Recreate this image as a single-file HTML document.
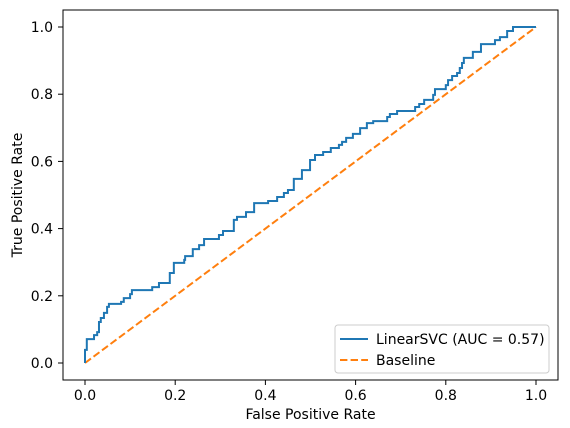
<!DOCTYPE html>
<html><head><meta charset="utf-8"><style>
body{margin:0;background:#fff;}
svg{display:block;font-family:"DejaVu Sans","Liberation Sans",sans-serif;}
</style></head><body>
<svg id="chart" width="570" height="428" viewBox="0 0 570 428" xmlns="http://www.w3.org/2000/svg">
<rect width="570" height="428" fill="#fff"/>
<path id="baseline" fill="none" stroke="#ff7f0e" stroke-width="2" stroke-dasharray="7.4,3.2"/>
<path id="roc" fill="none" stroke="#1f77b4" stroke-width="2"/>
<rect x="63" y="10" width="495" height="370" fill="none" stroke="#000" stroke-width="1"/>
<g id="xt"></g><g id="yt"></g>
<text x="310.5" y="419" font-size="14" text-anchor="middle">False Positive Rate</text>
<text transform="translate(22,195) rotate(-90)" font-size="14" text-anchor="middle">True Positive Rate</text>
<g>
<rect x="335" y="325" width="214" height="48" rx="3" fill="#fff" stroke="#ccc" stroke-width="1"/>
<line x1="340" y1="339" x2="368" y2="339" stroke="#1f77b4" stroke-width="2"/>
<text x="376" y="344" font-size="14">LinearSVC (AUC = 0.57)</text>
<line x1="340" y1="360" x2="368" y2="360" stroke="#ff7f0e" stroke-width="2" stroke-dasharray="7.4,3.2"/>
<text x="376" y="365" font-size="14">Baseline</text>
</g>
</svg>
<script>
const fpr=[0,0,0.004,0.020,0.027,0.031,0.035,0.042,0.049,0.053,0.080,0.086,0.100,0.104,0.149,0.164,0.188,0.197,0.220,0.222,0.239,0.253,0.264,0.297,0.306,0.330,0.337,0.357,0.375,0.406,0.426,0.441,0.450,0.463,0.481,0.499,0.510,0.528,0.545,0.563,0.570,0.579,0.594,0.610,0.625,0.639,0.670,0.676,0.692,0.732,0.741,0.752,0.772,0.776,0.800,0.805,0.814,0.825,0.831,0.836,0.840,0.860,0.878,0.909,0.920,0.936,0.949,1.0];
const tpr=[0,0.039,0.071,0.083,0.092,0.122,0.134,0.149,0.167,0.176,0.182,0.193,0.205,0.217,0.226,0.238,0.268,0.298,0.307,0.318,0.339,0.351,0.369,0.381,0.393,0.426,0.435,0.449,0.476,0.482,0.494,0.506,0.515,0.548,0.574,0.604,0.619,0.628,0.640,0.649,0.658,0.670,0.682,0.699,0.714,0.720,0.732,0.741,0.750,0.762,0.771,0.783,0.798,0.815,0.827,0.842,0.854,0.863,0.878,0.893,0.908,0.926,0.949,0.961,0.970,0.988,1.0,1.0];
const ticks=[0,0.2,0.4,0.6,0.8,1.0];
const tickLabels=["0.0","0.2","0.4","0.6","0.8","1.0"];
const baseX=[0,1], baseY=[0,1];
const sx=v=>85+v*451, sy=v=>363-v*336;
let d="M"+sx(fpr[0])+","+sy(tpr[0]);
for(let i=1;i<fpr.length;i++){d+=" L"+sx(fpr[i])+","+sy(tpr[i-1])+" L"+sx(fpr[i])+","+sy(tpr[i]);}
document.getElementById('roc').setAttribute('d',d);
document.getElementById('baseline').setAttribute('d',"M"+sx(baseX[0])+","+sy(baseY[0])+" L"+sx(baseX[1])+","+sy(baseY[1]));
const NS="http://www.w3.org/2000/svg";
const xt=document.getElementById('xt'),yt=document.getElementById('yt');
ticks.forEach((t,i)=>{
 let l=document.createElementNS(NS,'line');l.setAttribute('x1',sx(t));l.setAttribute('x2',sx(t));l.setAttribute('y1',380);l.setAttribute('y2',385);l.setAttribute('stroke','#000');l.setAttribute('stroke-width','1');
 
 
 xt.appendChild(l);
 let tx=document.createElementNS(NS,'text');tx.setAttribute('x',sx(t));tx.setAttribute('y',400);tx.setAttribute('font-size','14');tx.setAttribute('text-anchor','middle');tx.textContent=tickLabels[i];
 
 
 xt.appendChild(tx);
 let m=document.createElementNS(NS,'line');m.setAttribute('x1',58);m.setAttribute('x2',63);m.setAttribute('y1',sy(t));m.setAttribute('y2',sy(t));m.setAttribute('stroke','#000');m.setAttribute('stroke-width','1');
 
 
 yt.appendChild(m);
 let ty=document.createElementNS(NS,'text');ty.setAttribute('x',53);ty.setAttribute('y',sy(t)+5);ty.setAttribute('font-size','14');ty.setAttribute('text-anchor','end');ty.textContent=tickLabels[i];
 
 
 yt.appendChild(ty);
});
</script>
</body></html>
